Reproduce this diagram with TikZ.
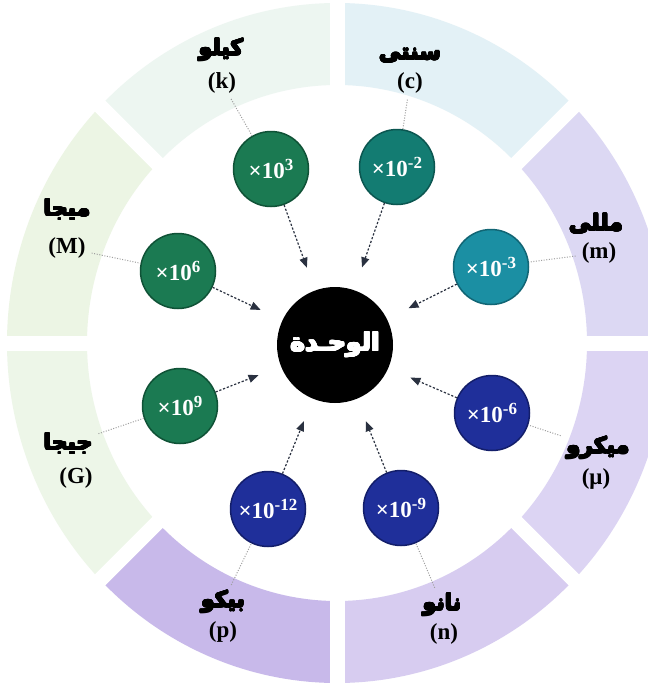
\documentclass[tikz,border=0pt]{standalone}
\usepackage{fontspec}
\usepackage{contour}
\contourlength{0.7pt}
\contournumber{16}
\setmainfont{Liberation Serif}
\newfontfamily\arfont[Script=Arabic]{DejaVu Sans}
\TeXXeTstate=1
\usetikzlibrary{arrows.meta,calc}
\definecolor{bk}{HTML}{EDF6F1}
\definecolor{bc}{HTML}{E3F1F6}
\definecolor{bm}{HTML}{DCD8F3}
\definecolor{bmu}{HTML}{DCD4F3}
\definecolor{bn}{HTML}{D7CCF0}
\definecolor{bp}{HTML}{C8B9EA}
\definecolor{bG}{HTML}{EDF6E8}
\definecolor{bM}{HTML}{ECF5E4}
\definecolor{cg}{HTML}{1B7A52}
\definecolor{cgd}{HTML}{0F5236}
\definecolor{ct}{HTML}{137C72}
\definecolor{ctd}{HTML}{0B5650}
\definecolor{cm}{HTML}{1B8FA3}
\definecolor{cmd}{HTML}{116574}
\definecolor{cb}{HTML}{1F2F9A}
\definecolor{cbd}{HTML}{131E6A}
\definecolor{arrc}{HTML}{2A3140}
\newcommand\tenp[1]{×10\raisebox{8pt}{\fontsize{17}{17}\selectfont #1}}
\newcommand\arb[1]{\contour{black}{\beginR #1\endR}}
\newcommand\arw[1]{\contour{white}{\beginR #1\endR}}
\begin{document}
\begin{tikzpicture}[x=1pt,y=-1pt,
  dot/.style={circle, minimum size=75pt, inner sep=0pt, text=white, line width=1.5pt,
    font=\bfseries\fontsize{23}{23}\selectfont},
  ctr/.style={circle, fill=black, minimum size=116pt, inner sep=0pt, text=white,
    font=\arfont\bfseries\fontsize{25}{25}\selectfont},
  arlab/.style={inner sep=1pt, font=\arfont\bfseries\fontsize{22}{22}\selectfont},
  latlab/.style={inner sep=1pt, font=\bfseries\fontsize{23}{23}\selectfont},
  lead/.style={draw=gray!75, line width=1pt, dash pattern=on 1pt off 1.6pt, shorten <=5pt},
  arr/.style={draw=arrc, line width=1.2pt, dash pattern=on 2.2pt off 1.8pt,
    -{Triangle[length=10pt,width=8pt]}, shorten >=24pt}]
\useasboundingbox (0,0) rectangle (648,683);
\clip (0,0) rectangle (648,683);
\fill[white] (0,0) rectangle (648,683);
\coordinate (C) at (337,343);
% ring sectors (angles measured clockwise from east, since y points down)
\foreach \a/\col in {0/bmu,45/bn,90/bp,135/bG,180/bM,225/bk,270/bc,315/bm}{
  \fill[\col] ($(C)+(\a:330 and 340)$)
    arc[start angle=\a, end angle=\a+45, x radius=330, y radius=340]
    -- ($(C)+(\a+45:250 and 258)$)
    arc[start angle=\a+45, end angle=\a, x radius=250, y radius=258] -- cycle;
}
\foreach \a in {0,45,...,315}{
  \draw[white, line width=15pt] (C) -- ($(C)+(\a:360)$);
}
% centre
\node[ctr] (u) at (335,345) {\arw{الوحـدة}};
% factor circles
\node[dot, fill=cg, draw=cgd] (k)  at (271,169) {\tenp{3}};
\node[dot, fill=ct, draw=ctd] (c)  at (397,167) {\tenp{-2}};
\node[dot, fill=cm, draw=cmd] (m)  at (491,267) {\tenp{-3}};
\node[dot, fill=cb, draw=cbd] (mu) at (492,413) {\tenp{-6}};
\node[dot, fill=cb, draw=cbd] (n)  at (401,508) {\tenp{-9}};
\node[dot, fill=cb, draw=cbd] (p)  at (268,509) {\tenp{-12}};
\node[dot, fill=cg, draw=cgd] (G)  at (180,406) {\tenp{9}};
\node[dot, fill=cg, draw=cgd] (M)  at (178,271) {\tenp{6}};
% labels
\node[arlab] (ka)  at (221,50)  {\arb{كيلو}};
\node[latlab] (kl) at (222,83)  {(k)};
\node[arlab] (ca)  at (410,56)  {\arb{سنتى}};
\node[latlab] (cl) at (410,83)  {(c)};
\node[arlab] (ma)  at (596,224) {\arb{مللى}};
\node[latlab] (ml) at (599,253) {(m)};
\node[arlab] (mua) at (598,448) {\arb{ميكرو}};
\node[latlab] (mul) at (596,479) {(μ)};
\node[arlab] (na)  at (442,605) {\arb{نانو}};
\node[latlab] (nl) at (444,634) {(n)};
\node[arlab] (pa)  at (223,602) {\arb{بيكو}};
\node[latlab] (pl) at (223,632) {(p)};
\node[arlab] (Ga)  at (68,444)  {\arb{جيجا}};
\node[latlab] (Gl) at (76,478)  {(G)};
\node[arlab] (Ma)  at (67,210)  {\arb{ميجا}};
\node[latlab] (Ml) at (67,248)  {(M)};
% leader lines
\draw[lead] (kl) -- (k);
\draw[lead] (cl) -- (c);
\draw[lead] (ml) -- (m);
\draw[lead] (mua) -- (mu);
\draw[lead] (na) -- (n);
\draw[lead] (pa) -- (p);
\draw[lead] (Ga) -- (G);
\draw[lead] (Ml) -- (M);
% arrows to the unit
\foreach \s in {k,c,m,mu,n,p,G,M}{
  \draw[arr] (\s) -- (u);
}
\end{tikzpicture}
\end{document}
